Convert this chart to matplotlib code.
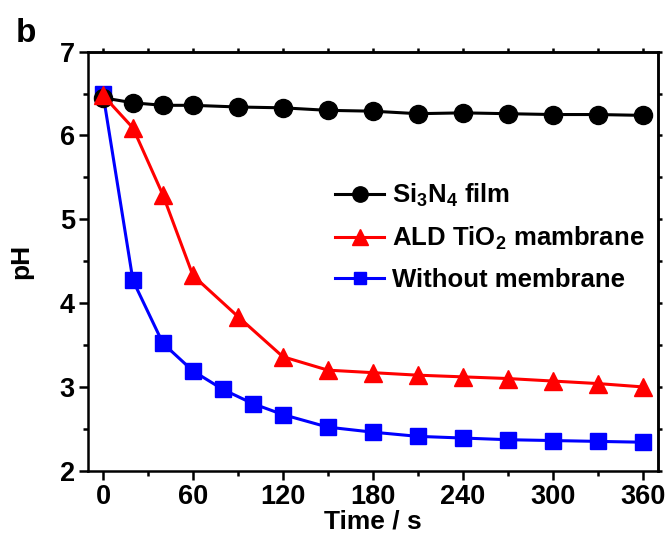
import matplotlib.pyplot as plt
from matplotlib.ticker import MultipleLocator

plt.rcParams['font.family'] = ['Liberation Sans', 'DejaVu Sans']
plt.rcParams['font.weight'] = 'bold'
plt.rcParams['mathtext.fontset'] = 'custom'
plt.rcParams['mathtext.rm'] = 'Liberation Sans:bold'
plt.rcParams['mathtext.bf'] = 'Liberation Sans:bold'
plt.rcParams['mathtext.default'] = 'rm'

# pH vs time (s)
t_si = [0, 20, 40, 60, 90, 120, 150, 180, 210, 240, 270, 300, 330, 360]
ph_si = [6.45, 6.39, 6.36, 6.36, 6.34, 6.33, 6.30, 6.29, 6.26, 6.27, 6.26, 6.25, 6.25, 6.24]

t_tio2 = [0, 20, 40, 60, 90, 120, 150, 180, 210, 240, 270, 300, 330, 360]
ph_tio2 = [6.48, 6.09, 5.29, 4.33, 3.84, 3.36, 3.20, 3.17, 3.14, 3.12, 3.10, 3.07, 3.04, 3.00]

t_none = [0, 20, 40, 60, 80, 100, 120, 150, 180, 210, 240, 270, 300, 330, 360]
ph_none = [6.50, 4.27, 3.52, 3.19, 2.97, 2.80, 2.67, 2.52, 2.46, 2.41, 2.39, 2.37, 2.36, 2.35, 2.34]

labels = ['Si$_3$N$_4$ film', 'ALD TiO$_2$ mambrane', 'Without membrane']

fig = plt.figure(figsize=(6.68, 5.40), dpi=100)
ax = fig.add_axes([0.1317, 0.1283, 0.8529, 0.776])

ax.plot(t_si, ph_si, color='black', lw=2.2, marker='o', ms=13, label=labels[0], zorder=3)
ax.plot(t_tio2, ph_tio2, color='red', lw=2.2, marker='^', ms=13.5, label=labels[1], zorder=4)
ax.plot(t_none, ph_none, color='blue', lw=2.2, marker='s', ms=11, label=labels[2], zorder=2)

ax.set_xlim(-10, 370)
ax.set_ylim(2, 7)
ax.xaxis.set_major_locator(MultipleLocator(60))
ax.xaxis.set_minor_locator(MultipleLocator(30))
ax.yaxis.set_major_locator(MultipleLocator(1))
ax.yaxis.set_minor_locator(MultipleLocator(0.5))

for s in ax.spines.values():
    s.set_linewidth(1.8)
ax.tick_params(which='major', direction='out', length=6.5, width=1.8, labelsize=19.5, pad=3)
ax.tick_params(which='minor', direction='out', length=3.5, width=1.8)

# short outward ticks on the top and right spines
top = ax.secondary_xaxis('top')
top.xaxis.set_major_locator(MultipleLocator(60))
top.xaxis.set_minor_locator(MultipleLocator(30))
top.tick_params(which='both', direction='out', length=3, width=1.8, labeltop=False)
right = ax.secondary_yaxis('right')
right.yaxis.set_major_locator(MultipleLocator(1))
right.yaxis.set_minor_locator(MultipleLocator(0.5))
right.tick_params(which='both', direction='out', length=3, width=1.8, labelright=False)
for sa in (top, right):
    for s in sa.spines.values():
        s.set_linewidth(1.8)

ax.set_xlabel('Time / s', fontsize=19, fontweight='bold', labelpad=0)
ax.set_ylabel('pH', fontsize=19, fontweight='bold', labelpad=19)

ax.legend(loc='upper left', bbox_to_anchor=(0.434, 0.69), frameon=False,
          fontsize=18.5, handlelength=1.9, handletextpad=0.3, labelspacing=0.62,
          borderpad=0, borderaxespad=0, markerscale=0.85)

fig.text(0.024, 0.922, 'b', fontsize=24, fontweight='bold')

fig.savefig('out.png', dpi=100)
